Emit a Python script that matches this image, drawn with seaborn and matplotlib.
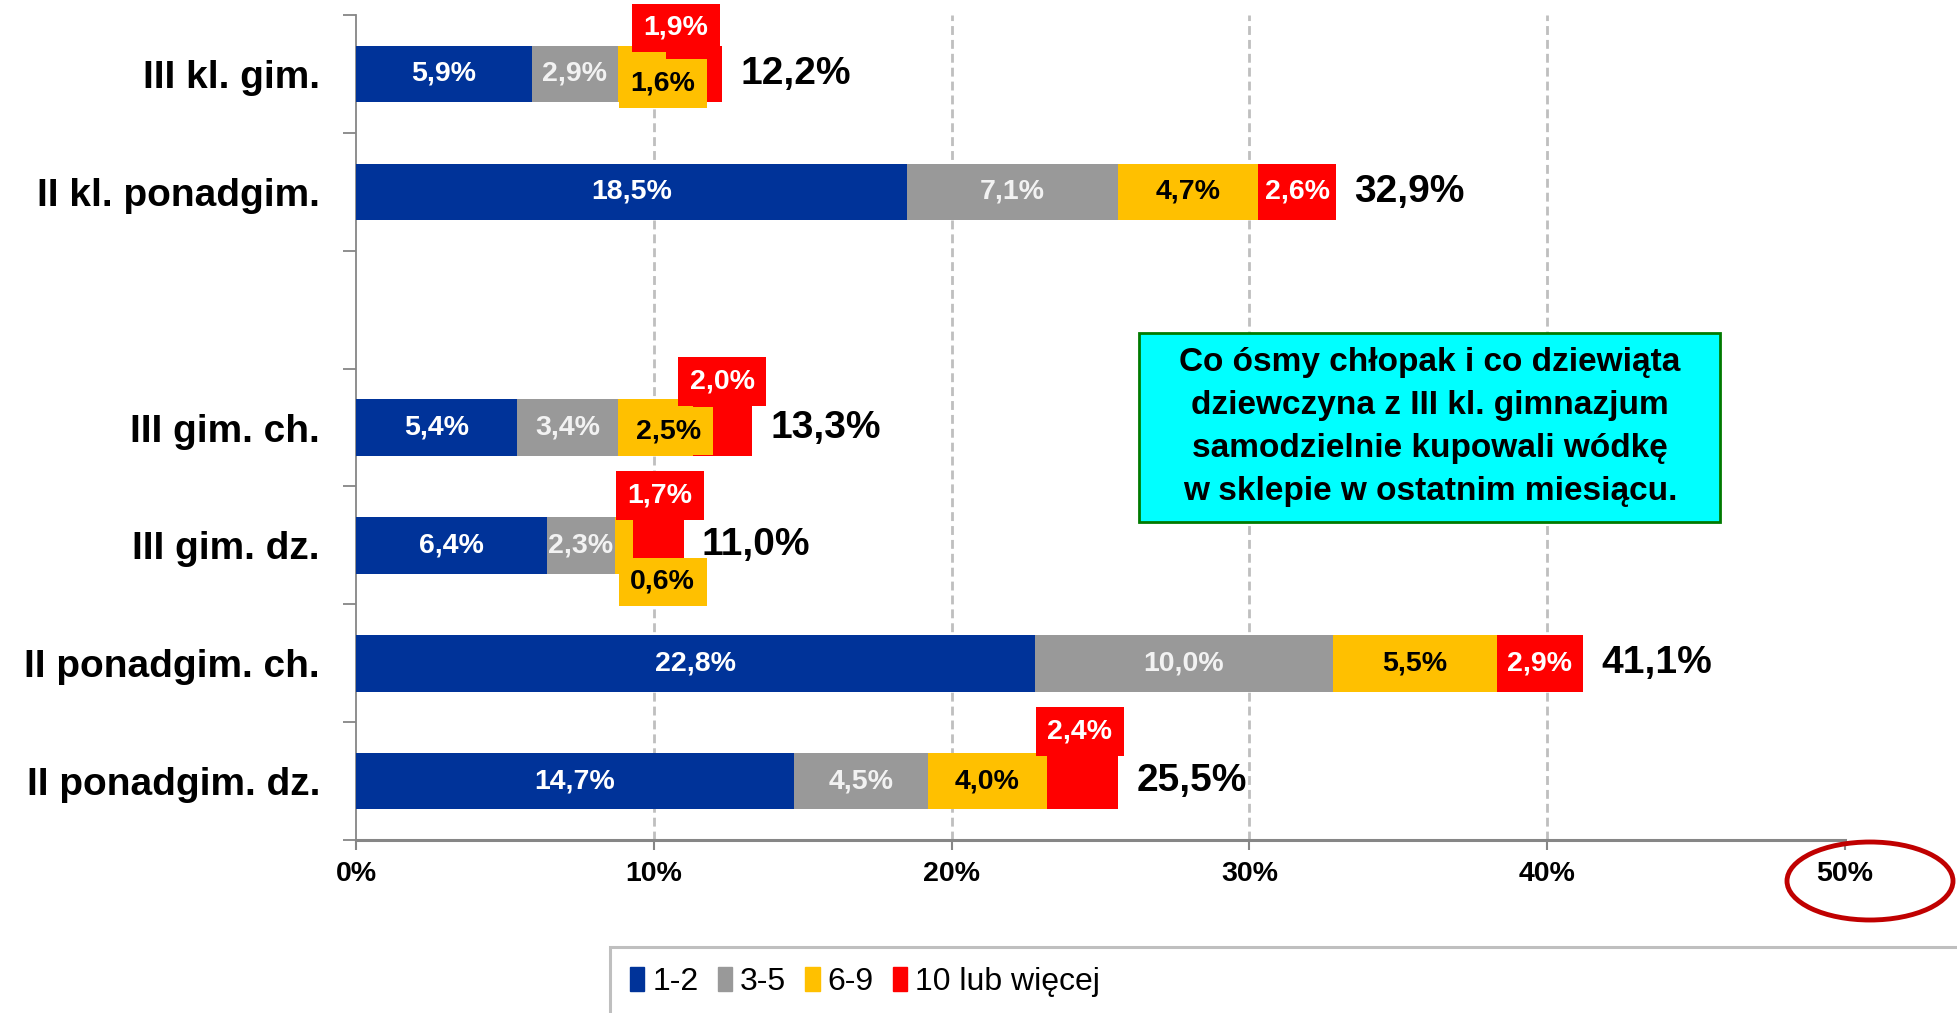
import matplotlib.pyplot as plt
import matplotlib.patches as mpatches
from matplotlib import font_manager
import numpy as np
import pandas as pd
import seaborn as sns

sns.set_style('white')
plt.rcParams['font.family'] = ['Liberation Sans', 'DejaVu Sans']
plt.rcParams['text.color'] = 'black'

# data
groups = ['III kl. gim.', 'II kl. ponadgim.', 'III gim. ch.', 'III gim. dz.',
          'II ponadgim. ch.', 'II ponadgim. dz.']
# empty slot between the two blocks of bars
slots = ['III kl. gim.', 'II kl. ponadgim.', '', 'III gim. ch.', 'III gim. dz.',
         'II ponadgim. ch.', 'II ponadgim. dz.']
series = ['1-2', '3-5', '6-9', '10 lub więcej']
v_1_2 = [5.9, 18.5, 5.4, 6.4, 22.8, 14.7]
v_3_5 = [2.9, 7.1, 3.4, 2.3, 10.0, 4.5]
v_6_9 = [1.6, 4.7, 2.5, 0.6, 5.5, 4.0]
v_10 = [1.9, 2.6, 2.0, 1.7, 2.9, 2.4]
totals = [12.2, 32.9, 13.3, 11.0, 41.1, 25.5]
note = ('Co ósmy chłopak i co dziewiąta\n'
        'dziewczyna z III kl. gimnazjum\n'
        'samodzielnie kupowali wódkę\n'
        'w sklepie w ostatnim miesiącu.')

colors = ['#003399', '#999999', '#FFC000', '#FF0000']
text_colors = ['white', '#F2F2F2', 'black', 'white']

# labels of tiny segments are moved out of the bar: (group, series) -> (dx, dy)
label_shift = {
    ('III kl. gim.', 2): (0.7, 0.08),
    ('III kl. gim.', 3): (-0.6, -0.39),
    ('III gim. ch.', 2): (0.45, 0.03),
    ('III gim. ch.', 3): (0.0, -0.39),
    ('III gim. dz.', 2): (1.3, 0.31),
    ('III gim. dz.', 3): (0.05, -0.42),
    ('II ponadgim. dz.', 3): (-0.1, -0.42),
}

df = pd.DataFrame({'grupa': groups, '1-2': v_1_2, '3-5': v_3_5,
                   '6-9': v_6_9, '10 lub więcej': v_10})
cum = df[series].cumsum(axis=1)
cum['grupa'] = groups

W, H = 1957, 1013
fig, ax = plt.subplots(figsize=(W / 100, H / 100), dpi=100)
fig.subplots_adjust(left=356 / W, right=1845 / W, bottom=1 - 840 / H, top=1 - 15 / H)

# stacked bars: draw cumulative sums from the longest down
for s, c in reversed(list(zip(series, colors))):
    sns.barplot(data=cum, x=s, y='grupa', order=slots, color=c, saturation=1,
                width=0.48, errorbar=None, linewidth=0, ax=ax, zorder=3)

# segment labels
for i, g in enumerate(groups):
    yi = slots.index(g)
    left = 0
    for j, s in enumerate(series):
        v = df.loc[i, s]
        dx, dy = label_shift.get((g, j), (0, 0))
        box = None
        if (g, j) in label_shift:
            box = dict(boxstyle='square,pad=0.4', fc=colors[j], ec='none')
        ax.text(left + v / 2 + dx, yi + dy, f'{v:.1f}%'.replace('.', ','),
                ha='center', va='center', fontsize=20.5, fontweight='bold',
                color=text_colors[j], bbox=box, zorder=5)
        left += v
    ax.annotate(f'{totals[i]:.1f}%'.replace('.', ','), (cum.loc[i, series[-1]], yi),
                xytext=(13, 0), textcoords='offset points', ha='left', va='center',
                fontsize=28, fontweight='bold', color='black', zorder=5)

ax.set_xlim(0, 50)
ax.set_ylim(6.5, -0.5)
ax.set_xlabel('')
ax.set_ylabel('')

xt = list(range(0, 51, 10))
ax.set_xticks(xt, [f'{t}%' for t in xt])
ax.set_yticks(range(len(slots)), slots)
ax.set_yticks(np.arange(-0.5, len(slots), 1), minor=True)
ax.tick_params(axis='x', bottom=True, length=7, width=1.5, color='#868686',
               pad=8, labelsize=20.5, labelcolor='black')
ax.tick_params(axis='y', which='major', left=True, length=0, pad=26, labelsize=28,
               labelcolor='black')
ax.tick_params(axis='y', which='minor', left=True, length=9.5, width=1.3,
               color='#868686')
for lbl in ax.get_xticklabels() + ax.get_yticklabels():
    lbl.set_fontweight('bold')

ax.grid(axis='x', color='#BFBFBF', lw=2, ls=(0, (3.2, 1.8)))
ax.set_axisbelow(True)
gl = ax.get_xgridlines()
gl[0].set_visible(False)
gl[-1].set_visible(False)

ax.spines[['top', 'right']].set_visible(False)
ax.spines['left'].set_color('#868686')
ax.spines['left'].set_linewidth(1.3)
ax.spines['bottom'].set_color('#868686')
ax.spines['bottom'].set_linewidth(2.2)

# note box
fig.add_artist(mpatches.Rectangle((1139 / W, 1 - 522 / H), (1720 - 1139) / W,
                                  (522 - 333) / H, transform=fig.transFigure,
                                  fc='#00FFFF', ec='#007A00', lw=2, zorder=4))
fig.text(1430 / W, 1 - 427 / H, note, ha='center', va='center', fontsize=24,
         fontweight='bold', linespacing=1.5, multialignment='center', zorder=5)

# red ellipse around 50%
fig.add_artist(mpatches.Ellipse((1870 / W, 1 - 881 / H), 166 / W, 78 / H,
                                transform=fig.transFigure, fill=False,
                                ec='#C00000', lw=3.5))

# legend with its frame running off the page
fig.add_artist(mpatches.Rectangle((610 / W, -0.02), 1.0, 0.02 + 1 - 947 / H,
                                  transform=fig.transFigure, fc='white',
                                  ec='#BFBFBF', lw=2.2))
names = {f.name for f in font_manager.fontManager.ttflist}
if 'Liberation Sans Narrow' in names:
    leg_font = {'family': 'Liberation Sans Narrow', 'size': 28}
else:
    leg_font = {'family': 'Liberation Sans', 'size': 23}
handles = [mpatches.Patch(color=c, label=s) for s, c in zip(series, colors)]
fig.legend(handles=handles, loc='center left', bbox_to_anchor=(630 / W, 1 - 982 / H),
           ncol=4, frameon=False, borderaxespad=0, borderpad=0,
           handlelength=0.45, handleheight=0.8, handletextpad=0.25,
           columnspacing=0.6, prop=leg_font)

fig.savefig('out.png', dpi=100)
